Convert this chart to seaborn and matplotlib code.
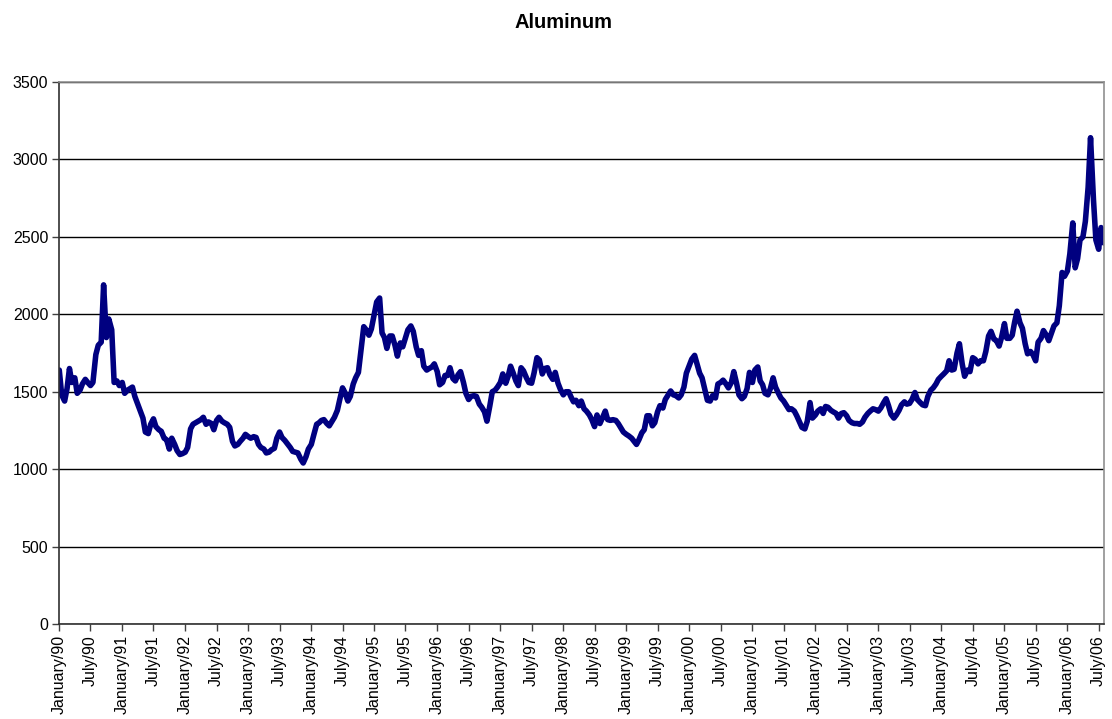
import pandas as pd
import seaborn as sns
from matplotlib import pyplot as plt
import matplotlib.dates as mdates

# Aluminum price at two points per month (1st and 15th)
y1990 = [1640, 1480, 1440, 1520, 1650, 1560, 1590, 1490, 1510, 1550, 1580, 1560,
         1540, 1560, 1740, 1800, 1820, 2190, 1850, 1970, 1900, 1560, 1570, 1540]
y1991 = [1560, 1490, 1510, 1520, 1530, 1470, 1420, 1380, 1330, 1240, 1230, 1290,
         1325, 1275, 1255, 1245, 1200, 1190, 1130, 1200, 1160, 1120, 1095, 1100]
y1992 = [1110, 1140, 1260, 1290, 1300, 1310, 1320, 1335, 1290, 1305, 1295, 1255,
         1315, 1335, 1310, 1300, 1290, 1270, 1180, 1150, 1160, 1180, 1200, 1225]
y1993 = [1210, 1200, 1210, 1205, 1160, 1140, 1130, 1105, 1110, 1125, 1135, 1200,
         1240, 1205, 1185, 1165, 1140, 1115, 1110, 1105, 1065, 1040, 1080, 1130]
y1994 = [1160, 1220, 1290, 1300, 1315, 1320, 1295, 1280, 1310, 1335, 1380, 1450,
         1525, 1495, 1440, 1470, 1550, 1590, 1625, 1760, 1920, 1900, 1865, 1905]
y1995 = [2000, 2080, 2105, 1880, 1850, 1780, 1860, 1860, 1800, 1730, 1815, 1790,
         1850, 1900, 1925, 1890, 1790, 1735, 1765, 1665, 1640, 1650, 1660, 1680]
y1996 = [1630, 1545, 1560, 1605, 1605, 1655, 1585, 1570, 1610, 1630, 1560, 1490,
         1450, 1470, 1475, 1470, 1420, 1400, 1370, 1310, 1410, 1500, 1510, 1530]
y1997 = [1560, 1615, 1555, 1600, 1665, 1625, 1570, 1540, 1655, 1635, 1590, 1560,
         1555, 1620, 1720, 1705, 1615, 1650, 1655, 1610, 1580, 1625, 1555, 1515]
y1998 = [1480, 1500, 1500, 1465, 1435, 1445, 1410, 1440, 1390, 1375, 1350, 1320,
         1275, 1350, 1295, 1330, 1375, 1320, 1315, 1320, 1315, 1295, 1265, 1240]
y1999 = [1225, 1215, 1200, 1180, 1160, 1190, 1235, 1255, 1345, 1345, 1280, 1300,
         1370, 1410, 1395, 1450, 1480, 1505, 1480, 1475, 1460, 1480, 1530, 1620]
y2000 = [1670, 1710, 1735, 1680, 1620, 1590, 1510, 1445, 1440, 1475, 1460, 1550,
         1560, 1575, 1550, 1525, 1560, 1630, 1555, 1480, 1455, 1470, 1520, 1625]
y2001 = [1560, 1640, 1660, 1570, 1545, 1490, 1480, 1520, 1590, 1530, 1490, 1460,
         1440, 1415, 1385, 1390, 1375, 1345, 1305, 1270, 1260, 1310, 1430, 1330]
y2002 = [1350, 1375, 1390, 1360, 1405, 1400, 1380, 1370, 1360, 1330, 1360, 1365,
         1345, 1315, 1300, 1295, 1295, 1290, 1305, 1335, 1360, 1375, 1390, 1385]
y2003 = [1375, 1395, 1430, 1455, 1410, 1355, 1330, 1350, 1380, 1415, 1435, 1420,
         1425, 1450, 1495, 1450, 1430, 1415, 1410, 1470, 1510, 1525, 1550, 1580]
y2004 = [1600, 1615, 1635, 1700, 1640, 1645, 1750, 1810, 1680, 1600, 1640, 1630,
         1720, 1710, 1680, 1700, 1700, 1760, 1860, 1890, 1840, 1830, 1795, 1850]
y2005 = [1940, 1845, 1845, 1865, 1950, 2020, 1945, 1910, 1810, 1745, 1760, 1740,
         1700, 1820, 1845, 1895, 1865, 1830, 1880, 1925, 1945, 2055, 2270, 2245]
y2006 = [2280, 2390, 2590, 2300, 2360, 2480, 2500, 2600, 2820, 3140, 2740, 2480,
         2420, 2560, 2460]

prices = (y1990 + y1991 + y1992 + y1993 + y1994 + y1995 + y1996 + y1997 + y1998
          + y1999 + y2000 + y2001 + y2002 + y2003 + y2004 + y2005 + y2006)
dates = pd.date_range("1990-01-01", periods=len(prices), freq="SMS")
data = pd.DataFrame({"date": dates, "price": prices})

tick_dates = pd.date_range("1990-01-01", "2006-07-01", freq="6MS")
tick_labels = [("January" if d.month == 1 else "July") + "/" + d.strftime("%y")
               for d in tick_dates]

sns.set_style("white")
plt.rcParams["font.family"] = ["Liberation Sans", "DejaVu Sans"]
plt.rcParams["text.color"] = "black"
plt.rcParams["xtick.color"] = "black"
plt.rcParams["ytick.color"] = "black"

fig = plt.figure(figsize=(11.12, 7.19), dpi=100)
ax = fig.add_axes([0.0533, 0.132, 0.9395, 0.754])

sns.lineplot(data=data, x="date", y="price", ax=ax, color="#000080",
             linewidth=4.0, solid_joinstyle="round", solid_capstyle="round")

ax.set_ylim(0, 3500)
ax.set_yticks(range(0, 3501, 500))
ax.set_xlim(dates[0], dates[-1])
ax.set_xticks(tick_dates)
ax.set_xticklabels(tick_labels, rotation=90, ha="center", va="top")
ax.xaxis.set_minor_locator(mdates.MonthLocator(bymonth=[1, 7]))

ax.grid(axis="y", color="black", linewidth=1)
ax.grid(axis="x", visible=False)
ax.set_axisbelow(True)
ax.tick_params(axis="both", labelsize=11.5, direction="out", length=5,
               width=1, color="#404040", labelcolor="black",
               bottom=True, left=True, pad=3)
ax.tick_params(axis="x", which="minor", length=0)

for side in ["top", "right"]:
    ax.spines[side].set_color("#909090")
    ax.spines[side].set_linewidth(1.2)
for side in ["left", "bottom"]:
    ax.spines[side].set_color("#303030")
    ax.spines[side].set_linewidth(1.2)

ax.set_xlabel("")
ax.set_ylabel("")
fig.suptitle("Aluminum", x=0.507, y=0.982, fontsize=14.5, fontweight="bold",
             color="black")

fig.savefig("out.png", dpi=100)
